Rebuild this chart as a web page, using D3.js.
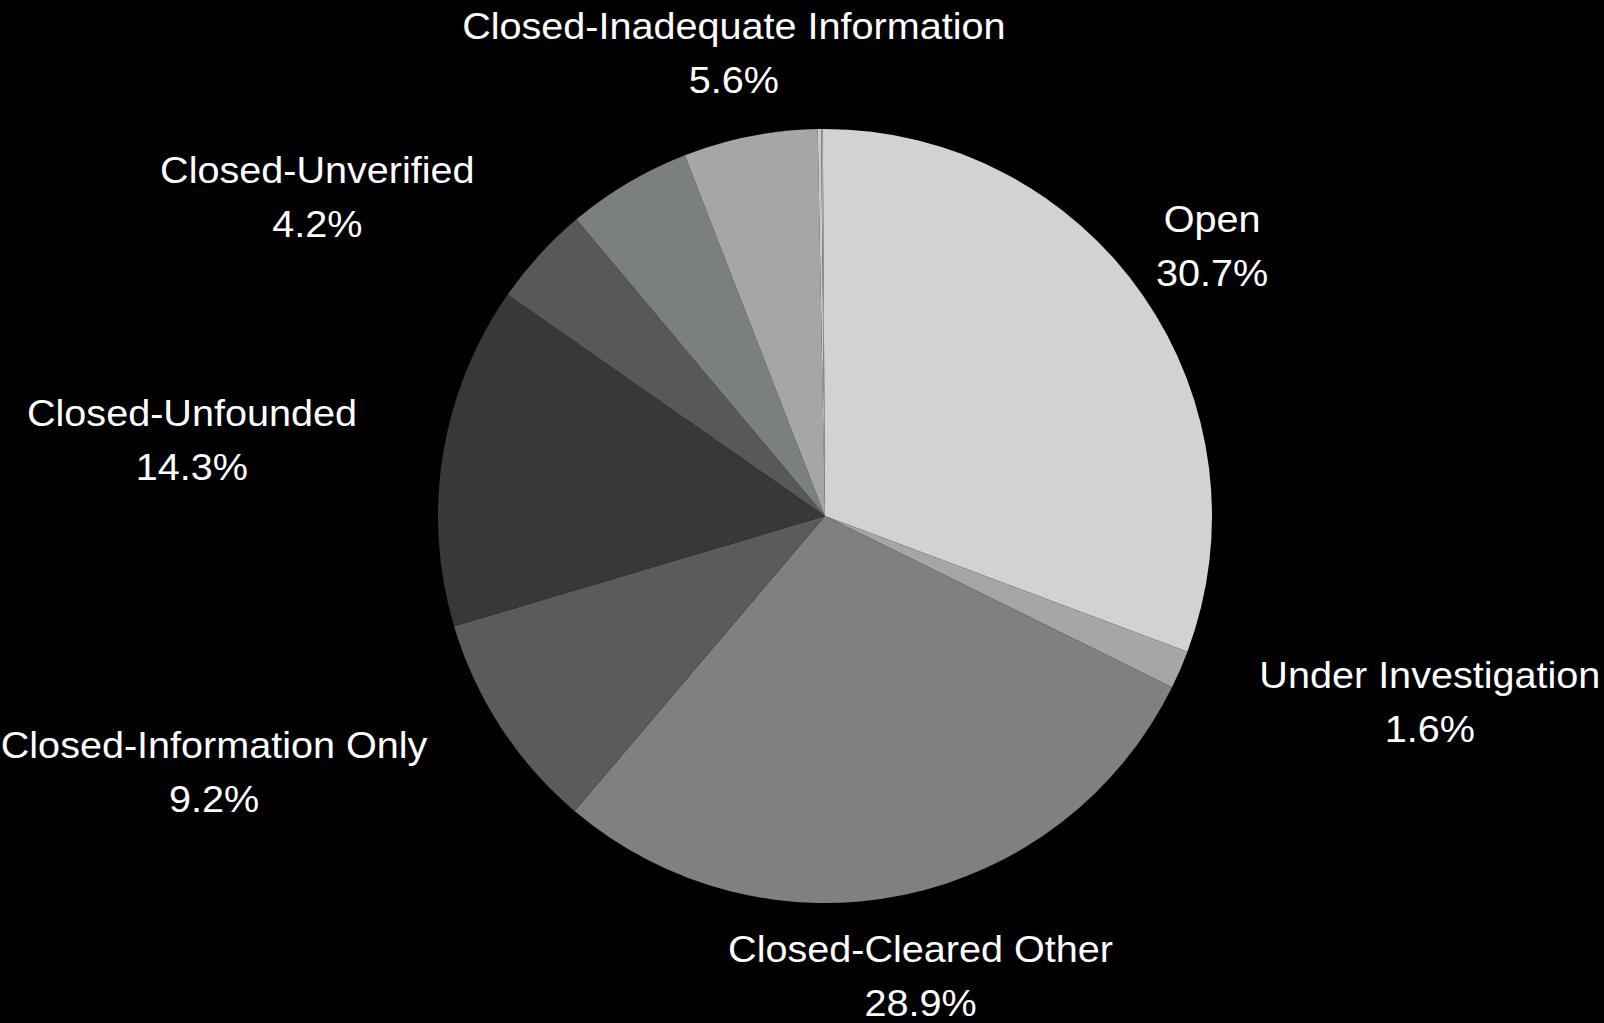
<!DOCTYPE html>
<html>
<head>
<meta charset="utf-8">
<script src="https://cdn.jsdelivr.net/npm/d3@7"></script>
<style>
  html, body { margin: 0; padding: 0; background: #000; }
  svg { display: block; }
</style>
</head>
<body>
<svg id="chart" width="1604" height="1023"></svg>
<script>
// ---- data ----
const categories = [
  "Open",
  "Under Investigation",
  "Closed-Cleared Other",
  "Closed-Information Only",
  "Closed-Unfounded",
  "Closed-Unverified",
  "",
  "Closed-Inadequate Information",
  "",
  "",
  ""
];
const values = [30.7, 1.6, 28.9, 9.2, 14.3, 4.2, 5.2, 5.6, 0.14, 0.07, 0.09];
const colors = ["#d2d2d0", "#a6a6a4", "#80807e", "#5b5b5b", "#373938", "#575958",
                "#7b807f", "#a5a6a8", "#c9cbce", "#a3a5a8", "#cfd0d2"];

// ---- layout ----
const W = 1604, H = 1023;
const cx = 825, cy = 516, R = 387;
const labelR = 471;
const fontSize = 37, lineGap = 54, stretch = 1.07;

const svg = d3.select("#chart");
svg.append("rect").attr("width", W).attr("height", H).attr("fill", "#000");

const data = categories.map((c, i) => ({ name: c, value: values[i], color: colors[i] }));
const pie = d3.pie().sort(null).value(d => d.value);
const arcs = pie(data);
const arc = d3.arc().innerRadius(0).outerRadius(R);
const labelArc = d3.arc().innerRadius(labelR).outerRadius(labelR);

const g = svg.append("g").attr("transform", `translate(${cx},${cy})`);
g.selectAll("path").data(arcs).join("path")
  .attr("d", arc)
  .attr("fill", d => d.data.color);

const fmt = d3.format(".1f");
const labels = svg.append("g")
  .attr("font-family", "'Liberation Sans', Arial, sans-serif")
  .attr("font-size", fontSize)
  .attr("fill", "#ffffff");

arcs.filter(d => d.data.name !== "").forEach(d => {
  const [ax, ay] = labelArc.centroid(d);
  const px = cx + ax, py = cy + ay;
  const lines = [d.data.name, fmt(d.data.value) + "%"];
  const grp = labels.append("g");
  const t = grp.append("text").attr("text-anchor", "middle");
  lines.forEach((s, i) => {
    t.append("tspan").attr("x", 0).attr("y", i * lineGap).text(s);
  });
  let w = 0;
  t.selectAll("tspan").each(function () { w = Math.max(w, this.getComputedTextLength()); });
  w *= stretch;
  const boxH = lineGap + fontSize * 0.75;
  const x0 = px - w / 2, x1 = px + w / 2, y0 = py - boxH / 2, y1 = py + boxH / 2;
  const nx = Math.max(x0, Math.min(cx, x1)), ny = Math.max(y0, Math.min(cy, y1));
  const dist = Math.hypot(nx - cx, ny - cy);
  let x = px;
  if (dist < R + 5) {
    x = px > cx ? px + 2 + w / 2 : px - 3 - w / 2;
  }
  const baseY = py - lineGap / 2 + fontSize * 0.36 - 1.5;
  grp.attr("transform", `translate(${x},${baseY}) scale(${stretch},1)`);
});
</script>
</body>
</html>
